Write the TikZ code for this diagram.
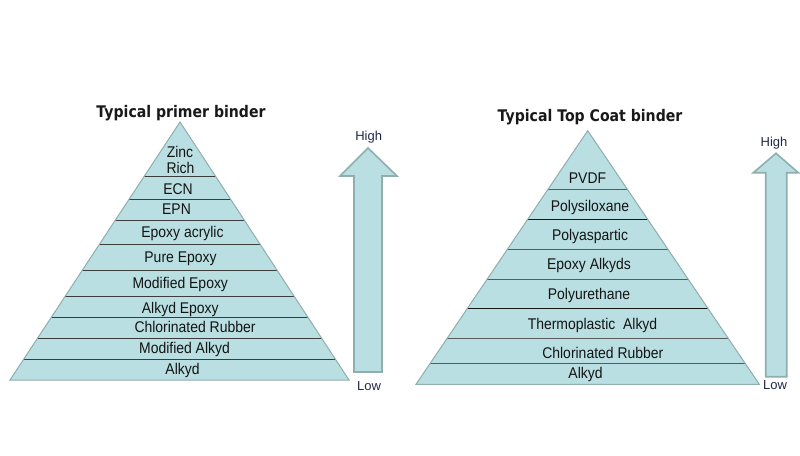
\documentclass[tikz,border=0pt]{standalone}
\usepackage{fontspec}
\setmainfont{Liberation Sans}
\newfontfamily\lblfont{Liberation Sans}[FakeStretch=0.9]
\newfontfamily\titlefont{DejaVu Sans}[FakeStretch=0.88]
\usetikzlibrary{calc}
\definecolor{pyrfill}{HTML}{B9DFE2}
\definecolor{pyredge}{HTML}{8FAEAE}
\definecolor{bandline}{HTML}{3C3C3C}
\definecolor{bandlinedark}{HTML}{151515}
\definecolor{bandlinelight}{HTML}{5A5A5A}
\definecolor{hilo}{HTML}{1F2A44}
\begin{document}
\begin{tikzpicture}[x=1pt,y=-1pt,
  lbl/.style={font=\lblfont\fontsize{15.5}{17}\selectfont, anchor=base, inner sep=0pt, text=black!92},
  ttl/.style={font=\titlefont\bfseries\fontsize{16}{18}\selectfont, anchor=base, inner sep=0pt, text=black!90},
  hilotext/.style={font=\fontsize{13}{15}\selectfont, anchor=base, inner sep=0pt, text=hilo},
  band/.style={draw=bandline, line width=1pt},
  pyrline/.style={draw=pyredge, line width=1pt},
  levelarrow/.style={draw=pyredge, fill=pyrfill, line width=1.6pt, line join=miter}]
\useasboundingbox (0,0) rectangle (800,455);
\fill[white] (0,0) rectangle (800,455);

% ---------- left pyramid ----------
\coordinate (LA) at (180,122);
\coordinate (LBL) at (10,380);
\coordinate (LBR) at (349,380);
\fill[pyrfill] (LA) -- (LBL) -- (LBR) -- cycle;
\foreach \yy in {177,199,220,245,270.7,296,317.3,338.3,359.3}{
  \pgfmathsetmacro\tt{(\yy-122)/258}
  \draw[band] ($(LA)!\tt!(LBL)$) -- ($(LA)!\tt!(LBR)$);
}
\draw[pyrline] (LA) -- (LBL) -- (LBR) -- cycle;

\node[ttl] (ltitle) at (181,117.5) {Typical primer binder};
\node[lbl] (l1a) at (180,157) {Zinc};
\node[lbl] (l1b) at (180.5,173.5) {Rich};
\node[lbl] (l2) at (178,194) {ECN};
\node[lbl] (l3) at (176.5,214.5) {EPN};
\node[lbl] (l4) at (182.5,237) {Epoxy acrylic};
\node[lbl] (l5) at (180.5,262) {Pure Epoxy};
\node[lbl] (l6) at (180.3,288) {Modified Epoxy};
\node[lbl] (l7) at (180.3,313.5) {Alkyd Epoxy};
\node[lbl] (l8) at (195,332.5) {Chlorinated Rubber};
\node[lbl] (l9) at (184.5,353.5) {Modified Alkyd};
\node[lbl] (l10) at (182.5,374) {Alkyd};

% left arrow
\draw[levelarrow] (368,148) -- (397,176) -- (382,176) -- (382,372)
  -- (354,372) -- (354,176) -- (340,176) -- cycle;
\node[hilotext] (lhigh) at (368.7,140.7) {High};
\node[hilotext] (llow) at (369,390) {Low};

% ---------- right pyramid ----------
\coordinate (RA) at (587.7,130.7);
\coordinate (RBL) at (416,384.3);
\coordinate (RBR) at (759.3,384.3);
\fill[pyrfill] (RA) -- (RBL) -- (RBR) -- cycle;
\foreach \yy/\cc in {189.3/bandlinelight,219.3/bandlinedark,249.3/bandlinelight,279/bandlinelight,308.7/bandlinedark,338.3/bandlinelight,363.3/bandlinelight}{
  \pgfmathsetmacro\tt{(\yy-130.7)/253.6}
  \draw[band, draw=\cc] ($(RA)!\tt!(RBL)$) -- ($(RA)!\tt!(RBR)$);
}
\draw[pyrline] (RA) -- (RBL) -- (RBR) -- cycle;

\node[ttl] (rtitle) at (590,121.7) {Typical Top Coat binder};
\node[lbl] (r1) at (587.5,183) {PVDF};
\node[lbl] (r2) at (590,211.5) {Polysiloxane};
\node[lbl] (r3) at (590,240.5) {Polyaspartic};
\node[lbl] (r4) at (589,269.8) {Epoxy Alkyds};
\node[lbl] (r5) at (589,299.5) {Polyurethane};
\node[lbl] (r6) at (592.5,329.8) {Thermoplastic~ Alkyd};
\node[lbl] (r7) at (602.8,358.8) {Chlorinated Rubber};
\node[lbl] (r8) at (585.5,378.8) {Alkyd};

% right arrow
\draw[levelarrow] (776,153.3) -- (798.3,172.7) -- (786.7,172.7) -- (786.7,376.7)
  -- (765.7,376.7) -- (765.7,172.7) -- (753.3,172.7) -- cycle;
\node[hilotext] (rhigh) at (774,146) {High};
\node[hilotext] (rlow) at (775,389) {Low};
\end{tikzpicture}
\end{document}
